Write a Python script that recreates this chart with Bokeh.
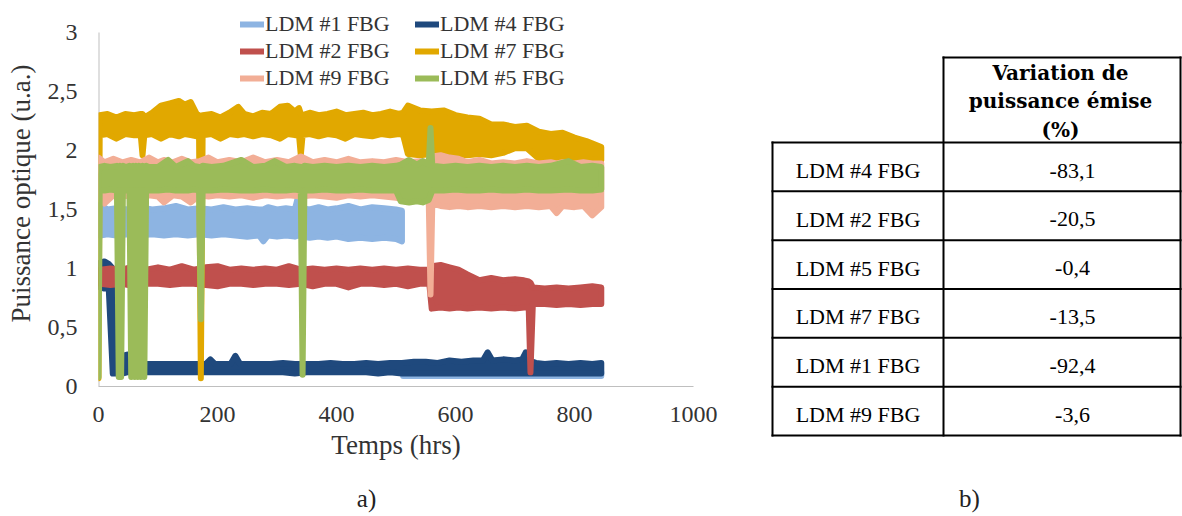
import math
from bokeh.plotting import figure
from bokeh.models import (Range1d, FixedTicker, CustomJSTickFormatter, Legend,
                          LegendItem, ColumnDataSource)
from bokeh.layouts import row, column
from bokeh.embed import file_html
from bokeh.resources import INLINE
from bokeh.core.properties import value

NAN = float("nan")

# ---------------- data ----------------
series_names = ["LDM #1 FBG", "LDM #4 FBG", "LDM #2 FBG", "LDM #7 FBG", "LDM #9 FBG", "LDM #5 FBG"]
series_colors = ["#8DB4E2", "#1F497D", "#C0504D", "#E1A800", "#F2AE96", "#9BBB59"]

# each series: sample times (hrs) with the low / high edge of the noisy trace
t_ldm1 = [3, 15, 30, 50, 70, 90, 110, 130, 150, 170, 190, 210, 230, 250, 270, 277, 285, 300, 315, 330,
          336, 342, 355, 370, 385, 400, 420, 440, 460, 480, 500, 510, NAN,
          512, 540, 580, 620, 660, 700, 740, 780, 820, 845]
lo_ldm1 = [1.28, 1.29, 1.28, 1.29, 1.28, 1.29, 1.28, 1.29, 1.28, 1.29, 1.28, 1.29, 1.28, 1.27, 1.28, 1.23,
           1.28, 1.27, 1.28, 1.27, 1.28, 1.27, 1.26, 1.27, 1.26, 1.27, 1.25, 1.26, 1.25, 1.26, 1.25, 1.23, NAN,
           0.09, 0.09, 0.09, 0.09, 0.09, 0.09, 0.09, 0.09, 0.09, 0.09]
hi_ldm1 = [1.54, 1.50, 1.51, 1.50, 1.52, 1.50, 1.51, 1.53, 1.50, 1.51, 1.50, 1.52, 1.50, 1.51, 1.50, 1.50,
           1.52, 1.50, 1.51, 1.50, 1.62, 1.51, 1.50, 1.52, 1.50, 1.51, 1.53, 1.50, 1.52, 1.51, 1.50, 1.49, NAN,
           0.12, 0.12, 0.12, 0.12, 0.12, 0.12, 0.12, 0.12, 0.12, 0.12]

t_ldm4 = [3, 10, 17, 24, 30, 40, 48, 60, 80, 100, 120, 140, 160, 180, 188, 196, 210, 222, 230, 238,
          250, 270, 290, 310, 330, 350, 370, 390, 410, 430, 450, 470, 490, 510, 530, 550, 570, 590, 610, 630,
          646, 654, 662, 680, 700, 712, 718, 724, 735, 750, 770, 790, 810, 830, 845]
lo_ldm4 = [0.84, 0.83, 0.85, 0.11, 0.11, 0.11, 0.12, 0.12, 0.12, 0.12, 0.12, 0.12, 0.12, 0.12, 0.12, 0.12,
           0.12, 0.12, 0.12, 0.12, 0.12, 0.12, 0.12, 0.12, 0.11, 0.12, 0.12, 0.12, 0.12, 0.12, 0.12, 0.11,
           0.12, 0.11, 0.11, 0.11, 0.11, 0.11, 0.11, 0.11, 0.11, 0.11, 0.11, 0.11, 0.11, 0.11, 0.11, 0.11,
           0.11, 0.11, 0.11, 0.11, 0.11, 0.11, 0.11]
hi_ldm4 = [1.05, 1.06, 1.04, 1.00, 0.27, 0.26, 0.27, 0.19, 0.19, 0.19, 0.19, 0.19, 0.19, 0.19, 0.23, 0.19,
           0.19, 0.19, 0.26, 0.19, 0.19, 0.19, 0.19, 0.20, 0.19, 0.19, 0.19, 0.20, 0.19, 0.19, 0.20, 0.19,
           0.20, 0.20, 0.21, 0.21, 0.20, 0.22, 0.21, 0.22, 0.22, 0.29, 0.22, 0.23, 0.22, 0.23, 0.29, 0.22,
           0.20, 0.19, 0.20, 0.19, 0.20, 0.19, 0.20]

t_ldm2 = [3, 20, 40, 60, 80, 100, 120, 140, 160, 180, 200, 220, 240, 260, 280, 300, 320, 340, 360, 380,
          400, 420, 440, 460, 480, 500, 520, 540, 556, 560, 575, 590, 605, 620, 640, 660, 680, 700, 715, 723,
          726, 730, 750, 770, 790, 810, 830, 845]
lo_ldm2 = [0.87, 0.86, 0.87, 0.85, 0.87, 0.87, 0.86, 0.87, 0.87, 0.86, 0.85, 0.87, 0.87, 0.86, 0.87, 0.87,
           0.86, 0.87, 0.85, 0.87, 0.87, 0.84, 0.87, 0.87, 0.86, 0.87, 0.85, 0.87, 0.87, 0.66, 0.67, 0.66,
           0.67, 0.66, 0.67, 0.66, 0.67, 0.66, 0.67, 0.67, 0.12, 0.70, 0.70, 0.69, 0.70, 0.69, 0.70, 0.70]
hi_ldm2 = [0.99, 1.00, 0.99, 1.02, 0.99, 1.01, 0.99, 1.02, 0.99, 1.01, 1.02, 0.99, 1.00, 0.99, 1.00, 0.99,
           1.02, 0.99, 1.00, 0.99, 1.00, 0.99, 1.00, 0.99, 1.00, 0.99, 1.00, 0.99, 0.99, 1.02, 1.03, 1.01,
           0.99, 0.95, 0.90, 0.92, 0.90, 0.91, 0.90, 0.89, 0.88, 0.84, 0.83, 0.84, 0.83, 0.84, 0.85, 0.84]

t_ldm7 = [0, 2, 15, 30, 45, 60, 71, 74, 77, 90, 105, 120, 135, 145, 155, 165, 169, 172, 175, 190,
          205, 220, 235, 245, 260, 275, 290, 305, 318, 330, 337, 340, 343, 355, 370, 385, 400, 415, 430, 445,
          460, 475, 490, 505, 512, 520, 540, 560, 580, 600, 620, 640, 660, 680, 700, 720, 740, 760, 780, 800,
          820, 845]
lo_ldm7 = [0.07, 2.13, 2.14, 2.10, 2.14, 2.13, 2.13, 1.96, 2.13, 2.14, 2.10, 2.14, 2.12, 2.14, 2.13, 2.12,
           2.13, 0.07, 2.13, 2.14, 2.10, 2.14, 2.13, 2.14, 2.12, 2.14, 2.13, 2.10, 2.14, 2.13, 2.13, 1.96,
           2.13, 2.14, 2.12, 2.14, 2.13, 2.10, 2.14, 2.13, 2.12, 2.14, 2.13, 2.14, 2.13, 1.97, 1.96, 1.97,
           1.96, 1.97, 1.96, 1.97, 1.96, 1.98, 2.02, 2.02, 1.93, 1.92, 1.93, 1.92, 1.93, 1.92]
hi_ldm7 = [0.09, 2.30, 2.31, 2.28, 2.31, 2.30, 2.31, 2.31, 2.28, 2.32, 2.38, 2.40, 2.42, 2.39, 2.41, 2.31,
           2.30, 2.28, 2.30, 2.31, 2.28, 2.32, 2.37, 2.31, 2.29, 2.32, 2.31, 2.37, 2.38, 2.33, 2.36, 2.31,
           2.30, 2.32, 2.30, 2.31, 2.33, 2.30, 2.31, 2.32, 2.30, 2.31, 2.33, 2.31, 2.32, 2.38, 2.34, 2.33,
           2.34, 2.30, 2.28, 2.27, 2.22, 2.22, 2.20, 2.21, 2.16, 2.14, 2.15, 2.11, 2.08, 2.03]

t_ldm9 = [0, 10, 25, 40, 55, 70, 85, 100, 110, 125, 140, 155, 170, 185, 200, 220, 240, 260, 280, 300,
          320, 340, 360, 380, 400, 420, 440, 460, 480, 500, 520, 540, 555, 558, 561, 575, 590, 605, 620, 640,
          660, 680, 700, 720, 740, 760, 770, 780, 800, 815, 830, 845]
lo_ldm9 = [1.62, 1.55, 1.62, 1.61, 1.62, 1.60, 1.62, 1.61, 1.56, 1.62, 1.61, 1.56, 1.62, 1.61, 1.62, 1.61,
           1.62, 1.60, 1.62, 1.61, 1.62, 1.61, 1.62, 1.61, 1.60, 1.62, 1.61, 1.62, 1.61, 1.60, 1.58, 1.58,
           1.58, 0.78, 1.55, 1.53, 1.52, 1.53, 1.52, 1.53, 1.52, 1.53, 1.52, 1.53, 1.52, 1.53, 1.47, 1.53,
           1.52, 1.53, 1.45, 1.52]
hi_ldm9 = [1.94, 1.90, 1.93, 1.90, 1.92, 1.90, 1.94, 1.90, 1.92, 1.90, 1.93, 1.90, 1.91, 1.94, 1.90, 1.92,
           1.90, 1.94, 1.90, 1.92, 1.90, 1.95, 1.90, 1.92, 1.90, 1.93, 1.90, 1.91, 1.90, 1.92, 1.90, 1.91,
           1.90, 1.90, 1.95, 1.96, 1.94, 1.93, 1.90, 1.92, 1.89, 1.90, 1.89, 1.91, 1.89, 1.90, 1.89, 1.90,
           1.89, 1.90, 1.89, 1.89]

t_ldm5 = [0, 2, 10, 20, 31, 34, 36, 38, 41, 46, 52, 55, 58, 61, 63, 66, 68, 71, 74, 77, 80, 85,
          100, 117, 130, 150, 160, 169, 172, 175, 190, 210, 240, 260, 280, 296, 315, 330,
          340, 343, 346, 360, 380, 400, 420, 440, 460, 480, 500, 508, 522, 535, 545, 555, 558, 561, 580, 600,
          620, 640, 660, 680, 700, 720, 740, 760, 790, 810, 830, 845]
lo_ldm5 = [0.08, 1.66, 1.66, 1.67, 1.66, 0.08, 1.66, 0.08, 1.66, 1.66, 1.66, 0.08, 1.66, 0.08, 1.66, 0.08,
           1.66, 0.08, 1.66, 0.08, 1.66, 1.66,
           1.66, 1.67, 1.66, 1.66, 1.67, 1.66, 0.57, 1.66, 1.66, 1.67, 1.66, 1.66, 1.67, 1.66, 1.66, 1.67,
           1.66, 0.10, 1.66, 1.66, 1.67, 1.66, 1.66, 1.67, 1.66, 1.66, 1.66, 1.57, 1.56, 1.57, 1.56, 1.58,
           1.62, 1.66, 1.66, 1.67, 1.66, 1.66, 1.67, 1.66, 1.66, 1.67, 1.66, 1.66, 1.67, 1.66, 1.66, 1.67]
hi_ldm5 = [1.80, 1.86, 1.87, 1.86, 1.87, 1.86, 1.87, 1.86, 1.87, 1.86, 1.87, 1.86, 1.87, 1.86, 1.87, 1.86,
           1.87, 1.86, 1.87, 1.86, 1.87, 1.86,
           1.86, 1.92, 1.86, 1.91, 1.87, 1.86, 1.86, 1.87, 1.86, 1.87, 1.92, 1.86, 1.87, 1.91, 1.86, 1.87,
           1.86, 1.86, 1.87, 1.86, 1.87, 1.86, 1.87, 1.86, 1.87, 1.86, 1.87, 1.88, 1.92, 1.88, 1.91, 1.88,
           2.19, 1.87, 1.86, 1.87, 1.86, 1.87, 1.86, 1.87, 1.86, 1.87, 1.86, 1.87, 1.91, 1.86, 1.87, 1.86]

series_data = {
    "LDM #1 FBG": (t_ldm1, lo_ldm1, hi_ldm1),
    "LDM #4 FBG": (t_ldm4, lo_ldm4, hi_ldm4),
    "LDM #2 FBG": (t_ldm2, lo_ldm2, hi_ldm2),
    "LDM #7 FBG": (t_ldm7, lo_ldm7, hi_ldm7),
    "LDM #9 FBG": (t_ldm9, lo_ldm9, hi_ldm9),
    "LDM #5 FBG": (t_ldm5, lo_ldm5, hi_ldm5),
}

x_ticks = [0, 200, 400, 600, 800, 1000]
y_ticks = [0, 0.5, 1, 1.5, 2, 2.5, 3]
y_axis_top = 3

legend_col1 = ["LDM #1 FBG", "LDM #2 FBG", "LDM #9 FBG"]
legend_col2 = ["LDM #4 FBG", "LDM #7 FBG", "LDM #5 FBG"]

table_header = ["Variation de", "puissance émise", "(%)"]
table_rows = ["LDM #4 FBG", "LDM #2 FBG", "LDM #5 FBG", "LDM #7 FBG", "LDM #1 FBG", "LDM #9 FBG"]
table_values = ["-83,1", "-20,5", "-0,4", "-13,5", "-92,4", "-3,6"]

captions = ["a)", "b)"]

# ---------------- layout constants ----------------
PAGE_W, PAGE_H = 1182, 516
W1 = 768
W2 = PAGE_W - W1
CAP_H = 40
TOP_H = PAGE_H - CAP_H

SERIF = "Liberation Serif"
TXT = "#333333"
LW = 6

# ---------------- chart a) ----------------
BORDER_B = 90
FRAME_H = TOP_H - BORDER_B        # frame reaches the top of the canvas (room for the legend)
AXIS_PX = 354                     # pixels between y=0 and y=3
y_end = y_axis_top * FRAME_H / AXIS_PX

p1 = figure(width=W1, height=TOP_H, x_range=Range1d(0, 1000), y_range=Range1d(0, y_end),
            output_backend="svg", toolbar_location=None, title=None,
            min_border_left=98, min_border_right=75, min_border_top=0, min_border_bottom=BORDER_B)
p1.frame_align = False
p1.outline_line_color = None
p1.xgrid.grid_line_color = None
p1.ygrid.grid_line_color = None

# vertical axis line only up to the last tick
p1.line(x=[0, 0], y=[0, y_axis_top], line_color="#BFBFBF", line_width=2)


def split_segments(t, lo, hi):
    segs, cur = [], ([], [], [])
    for a, b, c in zip(t, lo, hi):
        if math.isnan(a):
            if cur[0]:
                segs.append(cur)
            cur = ([], [], [])
        else:
            cur[0].append(a)
            cur[1].append(b)
            cur[2].append(c)
    if cur[0]:
        segs.append(cur)
    return segs


legend_renderers = {}
for name, color in zip(series_names, series_colors):
    t, lo, hi = series_data[name]
    assert len(t) == len(lo) == len(hi), name
    first = None
    for ts, ls, hs in split_segments(t, lo, hi):
        p1.varea(x=ts, y1=ls, y2=hs, fill_color=color, fill_alpha=1.0)
        r = p1.line(x=ts + ts[::-1] + [ts[0]], y=ls + hs[::-1] + [ls[0]],
                    line_color=color, line_width=LW, line_join="round", line_cap="round")
        if first is None:
            first = r
    legend_renderers[name] = first

for ax in (p1.xaxis[0], p1.yaxis[0]):
    ax.axis_line_color = "#BFBFBF"
    ax.axis_line_width = 1
    ax.major_tick_line_color = None
    ax.minor_tick_line_color = None
    ax.major_tick_out = 0
    ax.major_tick_in = 0
    ax.minor_tick_out = 0
    ax.minor_tick_in = 0
    ax.major_label_text_font = SERIF
    ax.major_label_text_font_size = "24px"
    ax.major_label_text_color = TXT
    ax.axis_label_text_font = SERIF
    ax.axis_label_text_font_size = "27px"
    ax.axis_label_text_font_style = "normal"
    ax.axis_label_text_color = TXT
p1.yaxis.axis_line_color = None

p1.xaxis.ticker = FixedTicker(ticks=x_ticks)
p1.yaxis.ticker = FixedTicker(ticks=y_ticks)
p1.yaxis.formatter = CustomJSTickFormatter(code="return tick.toString().replace('.', ',');")
p1.xaxis.axis_label = "Temps (hrs)"
p1.yaxis.axis_label = "Puissance optique (u.a.)"
p1.xaxis.major_label_standoff = 20
p1.xaxis.axis_label_standoff = 5
p1.yaxis.major_label_standoff = 21
p1.yaxis.axis_label_standoff = 9


def make_legend(names, loc):
    lg = Legend(items=[LegendItem(label=n, renderers=[legend_renderers[n]]) for n in names],
                location=loc, orientation="vertical", padding=0, margin=0, spacing=1,
                glyph_width=24, glyph_height=24, label_height=24, label_standoff=1,
                label_text_font=SERIF, label_text_font_size="22px", label_text_color=TXT,
                border_line_color=None, background_fill_alpha=0)
    p1.add_layout(lg, "center")


make_legend(legend_col1, (142, 295))
make_legend(legend_col2, (317, 295))

# ---------------- table b) ----------------
p2 = figure(width=W2, height=TOP_H, x_range=Range1d(0, W2), y_range=Range1d(TOP_H, 0),
            output_backend="svg", toolbar_location=None, title=None,
            x_axis_type=None, y_axis_type=None, min_border=0)
p2.frame_align = False
p2.outline_line_color = None
p2.xgrid.grid_line_color = None
p2.ygrid.grid_line_color = None

L, D, R = 4, 175, 412
TOP, HDR = 57, 142
ROW_H = 48.83
n = len(table_rows)
BOT = HDR + n * ROW_H

sx0, sy0, sx1, sy1 = [D], [TOP], [R], [TOP]
for i in range(n + 1):
    y = HDR + i * ROW_H
    sx0.append(L); sy0.append(y); sx1.append(R); sy1.append(y)
for xv, ytop in ((L, HDR), (D, TOP), (R, TOP)):
    sx0.append(xv); sy0.append(ytop); sx1.append(xv); sy1.append(BOT)
p2.segment(x0=sx0, y0=sy0, x1=sx1, y1=sy1, line_color="black", line_width=2, line_cap="square")

hdr_src = ColumnDataSource(dict(x=[292] * len(table_header), y=[72, 100, 129], text=table_header))
p2.text(x="x", y="y", text="text", source=hdr_src, text_font=value("DejaVu Serif"),
        text_font_style="bold", text_font_size="20px", text_align="center",
        text_baseline="alphabetic", text_color="black")

row_y = [HDR + i * ROW_H + 28 for i in range(n)]
lab_src = ColumnDataSource(dict(x=[(L + D) / 2] * n, y=row_y, text=table_rows))
p2.text(x="x", y="y", text="text", source=lab_src, text_font=value(SERIF),
        text_font_size="22px", text_align="center", text_baseline="alphabetic", text_color="black")
val_src = ColumnDataSource(dict(x=[304] * n, y=row_y, text=table_values))
p2.text(x="x", y="y", text="text", source=val_src, text_font=value(SERIF),
        text_font_size="22px", text_align="center", text_baseline="alphabetic", text_color="black")

# ---------------- captions strip ----------------
p3 = figure(width=PAGE_W, height=CAP_H, x_range=Range1d(0, PAGE_W), y_range=Range1d(CAP_H, 0),
            output_backend="svg", toolbar_location=None, title=None,
            x_axis_type=None, y_axis_type=None, min_border=0)
p3.frame_align = False
p3.outline_line_color = None
p3.xgrid.grid_line_color = None
p3.ygrid.grid_line_color = None
cap_src = ColumnDataSource(dict(x=[366, 969], y=[22, 22], text=captions))
p3.text(x="x", y="y", text="text", source=cap_src, text_font=value(SERIF), text_font_size="25px",
        text_align="center", text_baseline="alphabetic", text_color="#222222")

layout = column(row(p1, p2), p3)
open("out.html", "w").write(file_html(layout, INLINE))
